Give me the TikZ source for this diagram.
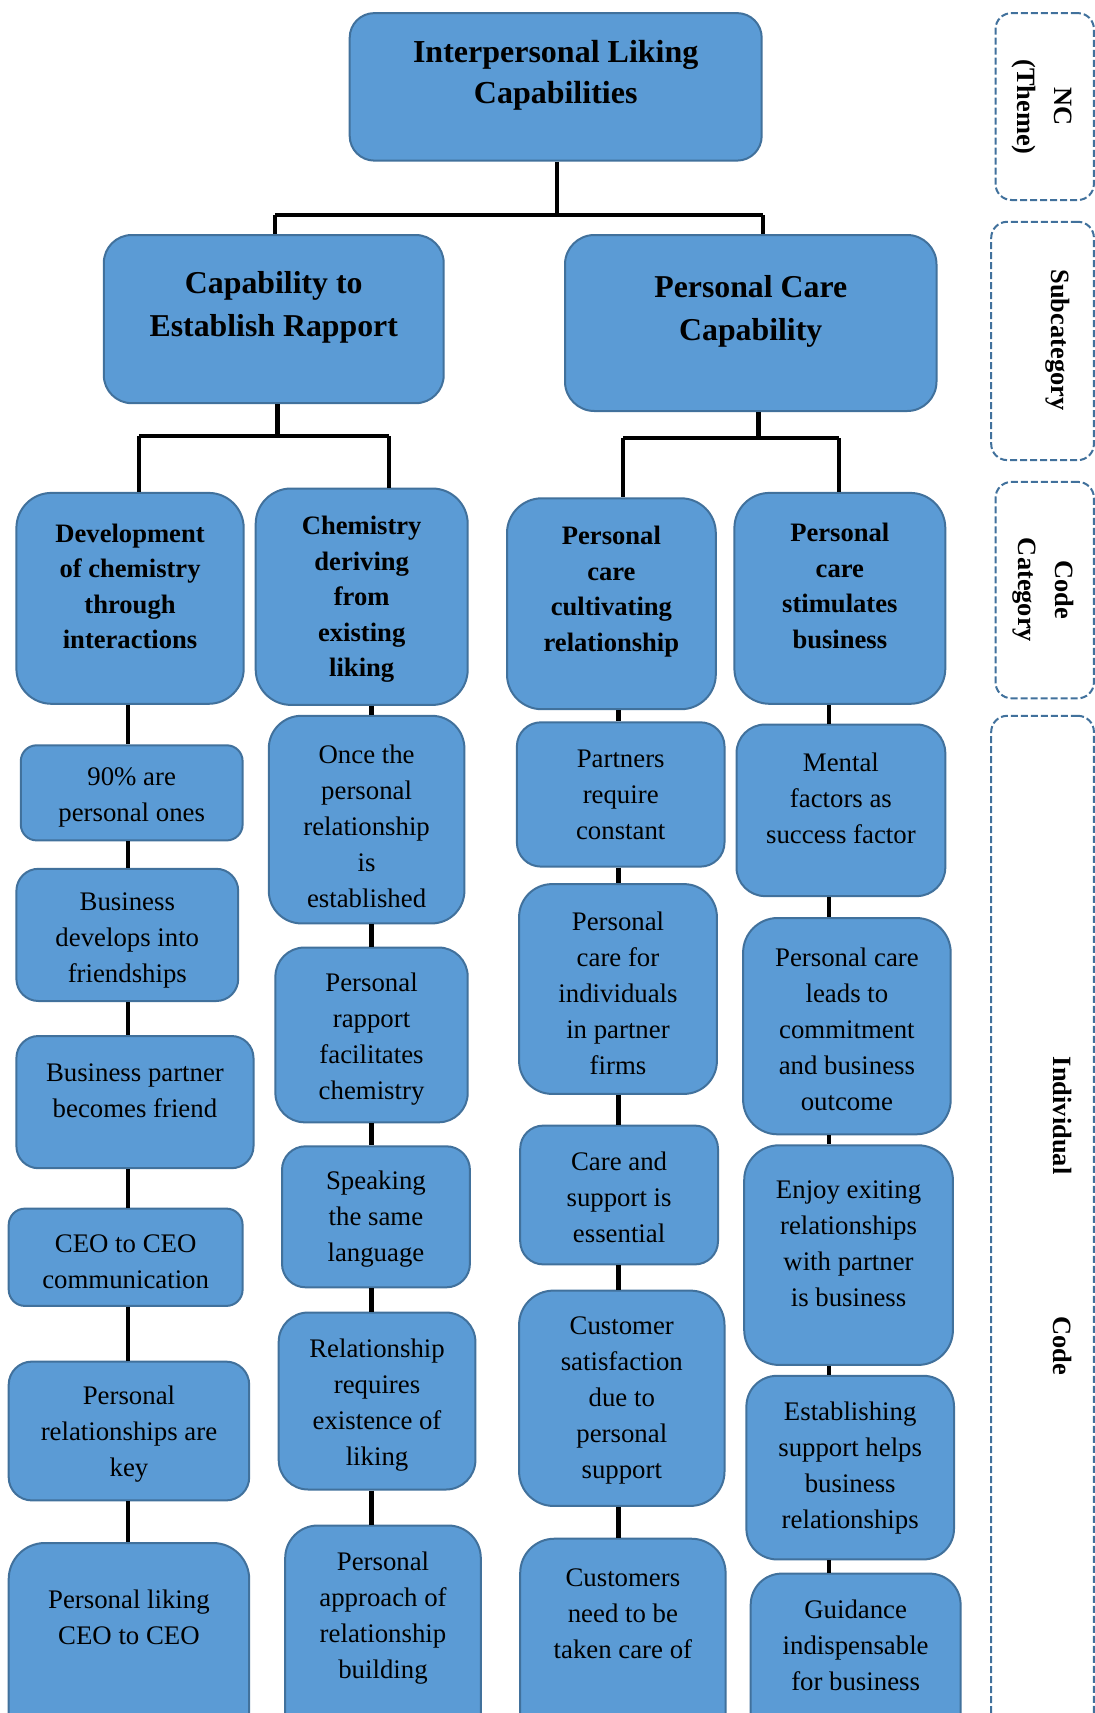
\documentclass[tikz,border=0pt]{standalone}
\usepackage{fontspec}
\setmainfont{Liberation Serif}
\definecolor{boxfill}{RGB}{91,155,213}
\definecolor{boxline}{RGB}{65,113,156}
\tikzset{
  cbox/.style={draw=boxline, fill=boxfill, line width=1pt, inner sep=0pt},
  sidebox/.style={draw=boxline, line width=1pt, dash pattern=on 3.5pt off 1.5pt,
                  rounded corners=8pt, inner sep=0pt},
  conn/.style={line width=2.2pt, black},
  txt/.style={align=center, inner sep=0pt, font=\fontsize{13.4}{18}\selectfont},
  cattxt/.style={align=center, inner sep=0pt, font=\bfseries\fontsize{13.3}{17.75}\selectfont},
  subtxt/.style={align=center, inner sep=0pt, font=\bfseries\fontsize{15.9}{21.3}\selectfont},
  toptxt/.style={align=center, inner sep=0pt, font=\bfseries\fontsize{16}{20.75}\selectfont},
  sidetxt/.style={align=center, inner sep=0pt, rotate=-90,
                  font=\bfseries\fontsize{13.2}{18.5}\selectfont},
}
% \rbox[text style]{name}{x1}{y1}{x2}{y2}{text y}{text}  (pixel units)
\newcommand\rbox[8][txt]{%
  \pgfmathsetmacro\rbW{(#5-#3)*0.5}%
  \pgfmathsetmacro\rbH{(#6-#4)*0.5}%
  \pgfmathsetmacro\rbR{min(\rbW,\rbH)/6}%
  \node[cbox, minimum width=\rbW pt, minimum height=\rbH pt, rounded corners=\rbR pt]
    (#2) at ({(#3+#5)/2},{(#4+#6)/2}) {};
  \node[#1] (#2-t) at ({(#3+#5)/2},{#7+2.5}) {#8};
}
% \legendpanel{name}{x1}{y1}{x2}{y2}
\newcommand\legendpanel[5]{%
  \pgfmathsetmacro\rbW{(#4-#2)*0.5}%
  \pgfmathsetmacro\rbH{(#5-#3)*0.5}%
  \node[sidebox, minimum width=\rbW pt, minimum height=\rbH pt]
    (#1) at ({(#2+#4)/2},{(#3+#5)/2}) {};
}
\begin{document}
\begin{tikzpicture}[x=0.5pt,y=-0.5pt]
\useasboundingbox (0,0) rectangle (1095,1713);
\fill[white] (0,0) rectangle (1095,1713);
\clip (0,0) rectangle (1095,1713);

% theme and subcategories
\rbox[toptxt]{top}{349.7}{13.1}{761.7}{160.6}{73}{Interpersonal Liking\\Capabilities}
\rbox[subtxt]{sl}{103.8}{235}{443.7}{403.2}{305}{Capability to\\Establish Rapport}
\rbox[subtxt]{sr}{565}{235}{936.5}{411}{308.7}{Personal Care\\Capability}

% code categories
\rbox[cattxt]{c1}{16.4}{492.9}{243.7}{703.8}{584}{Development\\of chemistry\\through\\interactions}
\rbox[cattxt]{c2}{255.7}{488.5}{467.7}{704.9}{597}{Chemistry\\deriving\\from\\existing\\liking}
\rbox[cattxt]{c3}{507}{498.3}{715.8}{709.2}{589}{Personal\\care\\cultivating\\relationship}
\rbox[cattxt]{c4}{734.4}{492.9}{945.3}{703.8}{583.6}{Personal\\care\\stimulates\\business}

% individual codes, column 1
\rbox{a1}{20.8}{745.3}{242.6}{840.4}{795}{90\% are\\personal ones}
\rbox{a2}{16.4}{868.8}{238.2}{1001}{937.6}{Business\\develops into\\friendships}
\rbox{a3}{16.4}{1036}{253.5}{1168.2}{1088.4}{Business partner\\becomes friend}
\rbox{a4}{8.7}{1208.6}{242.6}{1305.9}{1258.9}{CEO to CEO\\communication}
\rbox{a5}{8.7}{1361.6}{249.2}{1500.4}{1431.6}{Personal\\relationships are\\key}
\rbox{a6}{8.7}{1543}{249.2}{1760}{1615.2}{Personal liking\\CEO to CEO}

% column 2
\rbox{b1}{268.8}{715.8}{464.4}{923.4}{823.4}{Once the\\personal\\relationship\\is\\established}
\rbox{b2}{275.4}{947.5}{467.7}{1122.3}{1036.5}{Personal\\rapport\\facilitates\\chemistry}
\rbox{b3}{282}{1146.3}{469.9}{1287.3}{1216.8}{Speaking\\the same\\language}
\rbox{b4}{278.7}{1312.5}{475.4}{1489.5}{1402.6}{Relationship\\requires\\existence of\\liking}
\rbox{b5}{285.2}{1525.5}{480.8}{1760}{1615.7}{Personal\\approach of\\relationship\\building}

% column 3
\rbox{d1}{516.9}{722.3}{724.5}{866.6}{792.3}{Partners\\require\\constant}
\rbox{d2}{519.1}{884.1}{716.9}{1093.9}{991.2}{Personal\\care for\\individuals\\in partner\\firms}
\rbox{d3}{520.2}{1125.6}{718}{1264.4}{1194.4}{Care and\\support is\\essential}
\rbox{d4}{519.1}{1290.6}{724.5}{1505.9}{1398.3}{Customer\\satisfaction\\due to\\personal\\support}
\rbox{d5}{520.2}{1538.7}{725.6}{1760}{1611.3}{Customers\\need to be\\taken care of}

% column 4
\rbox{e1}{736.5}{724.5}{945.3}{896.1}{795.6}{Mental\\factors as\\success factor}
\rbox{e2}{743.1}{918}{950.7}{1134.3}{1026.7}{Personal care\\leads to\\commitment\\and business\\outcome}
\rbox{e3}{744.2}{1145.3}{952.9}{1364.9}{1241.4}{Enjoy exiting\\relationships\\with partner\\is business}
\rbox{e4}{746.4}{1375.8}{954}{1559.4}{1465.4}{Establishing\\support helps\\business\\relationships}
\rbox{e5}{750.7}{1573.6}{960.6}{1760}{1643}{Guidance\\indispensable\\for business}

% tree connectors
\coordinate (j0) at (557,215);
\coordinate (j0l) at (275,215);
\coordinate (j0r) at (763,215);
\draw[conn] (top.south -| j0) -- (j0);
\draw[conn] (j0l) -- (j0r);
\draw[conn] (j0l) -- (j0l |- sl.north);
\draw[conn] (j0r) -- (j0r |- sr.north);

\coordinate (j1) at (277.6,436);
\coordinate (j1l) at (138.8,436);
\coordinate (j1r) at (389,436);
\draw[conn] (sl.south -| j1) -- (j1);
\draw[conn] (j1l) -- (j1r);
\draw[conn] (j1l) -- (j1l |- c1.north);
\draw[conn] (j1r) -- (j1r |- c2.north);

\coordinate (j2) at (758.4,438);
\coordinate (j2l) at (623,438);
\coordinate (j2r) at (839,438);
\draw[conn] (sr.south -| j2) -- (j2);
\draw[conn] (j2l) -- (j2r);
\draw[conn] (j2l) -- (j2l |- c3.north);
\draw[conn] (j2r) -- (j2r |- c4.north);

% column chains
\coordinate (x1) at (128,0);
\coordinate (x2) at (371.5,0);
\coordinate (x3) at (618.5,0);
\coordinate (x4) at (829,0);
\foreach \u/\v in {c1/a1,a1/a2,a2/a3,a3/a4,a4/a5,a5/a6}
  \draw[conn] (\u.south -| x1) -- (\v.north -| x1);
\foreach \u/\v in {c2/b1,b1/b2,b2/b3,b3/b4,b4/b5}
  \draw[conn] (\u.south -| x2) -- (\v.north -| x2);
\foreach \u/\v in {c3/d1,d1/d2,d2/d3,d3/d4,d4/d5}
  \draw[conn] (\u.south -| x3) -- (\v.north -| x3);
\foreach \u/\v in {c4/e1,e1/e2,e2/e3,e3/e4,e4/e5}
  \draw[conn] (\u.south -| x4) -- (\v.north -| x4);

% level legend on the right
\legendpanel{s1}{995.5}{13.1}{1093.9}{200}
\legendpanel{s2}{991.2}{221.8}{1093.9}{460.1}
\legendpanel{s3}{995.5}{481.9}{1093.9}{698.3}
\legendpanel{s4}{991.2}{715.8}{1093.9}{1760}
\node[sidetxt] (s1-t) at (1041.5,107) {NC\\(Theme)};
\node[sidetxt] (s2-t) at (1058,340) {Subcategory};
\node[sidetxt] (s3-t) at (1043.5,590) {Code\\Category};
\node[sidetxt] (s4-t) at (1062,1216) {Individual\hspace{71pt}Code};
\end{tikzpicture}
\end{document}
